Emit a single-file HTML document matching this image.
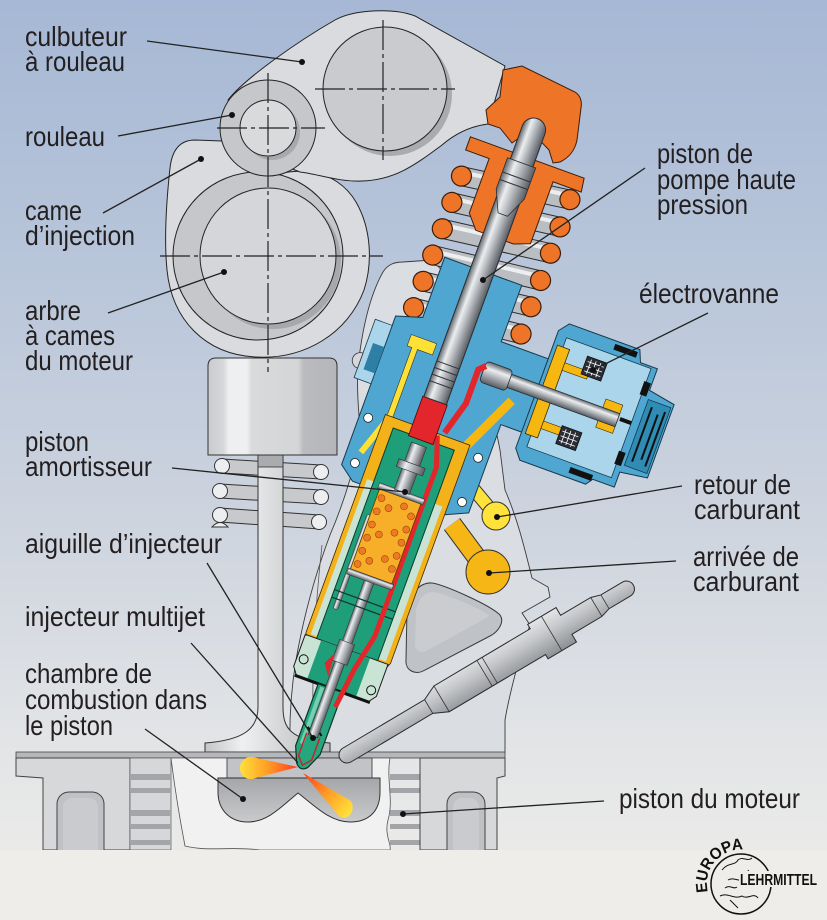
<!DOCTYPE html>
<html><head><meta charset="utf-8"><style>
html,body{margin:0;padding:0;background:#eeede9;}
svg{display:block}
.t{font-family:"Liberation Sans",Arial,sans-serif;font-size:28px;fill:#231f20}
.ln{stroke:#222;stroke-width:1.3;fill:none}
.ch{stroke:#222;stroke-width:1.2;stroke-dasharray:30 4 4 4;fill:none}
.o{stroke:#232323;stroke-width:1}
</style></head><body>
<svg width="827" height="920" viewBox="0 0 827 920" xmlns="http://www.w3.org/2000/svg">
<defs>
<linearGradient id="bg" x1="0" y1="0" x2="0" y2="1">
<stop offset="0" stop-color="#a6b8d5"/><stop offset="0.3" stop-color="#b9c6da"/>
<stop offset="0.55" stop-color="#ccd3de"/><stop offset="0.8" stop-color="#e2e4e6"/>
<stop offset="1" stop-color="#efeeea"/></linearGradient>
<linearGradient id="silH" x1="0" y1="0" x2="1" y2="0">
<stop offset="0" stop-color="#62676d"/><stop offset="0.3" stop-color="#eceef0"/>
<stop offset="0.6" stop-color="#adb1b6"/><stop offset="1" stop-color="#575c62"/></linearGradient>
<linearGradient id="silV" x1="0" y1="0" x2="0" y2="1">
<stop offset="0" stop-color="#62676d"/><stop offset="0.3" stop-color="#eceef0"/>
<stop offset="0.6" stop-color="#adb1b6"/><stop offset="1" stop-color="#575c62"/></linearGradient>
<linearGradient id="tap" x1="0" y1="0" x2="1" y2="0">
<stop offset="0" stop-color="#c9cbce"/><stop offset="0.12" stop-color="#d6d8da"/>
<stop offset="0.16" stop-color="#eeeff0"/><stop offset="0.3" stop-color="#eeeff0"/>
<stop offset="0.34" stop-color="#d8dadc"/><stop offset="0.7" stop-color="#d3d5d7"/>
<stop offset="0.74" stop-color="#b9bbbe"/><stop offset="1" stop-color="#b4b6b9"/></linearGradient>
<linearGradient id="stem" x1="0" y1="0" x2="1" y2="0">
<stop offset="0" stop-color="#c3c5c8"/><stop offset="0.3" stop-color="#eff0f1"/>
<stop offset="0.6" stop-color="#d5d7d9"/><stop offset="1" stop-color="#b4b6b9"/></linearGradient>
<linearGradient id="plug" x1="0" y1="0" x2="0" y2="1">
<stop offset="0" stop-color="#e3e5e7"/><stop offset="0.4" stop-color="#c6c8cb"/>
<stop offset="1" stop-color="#8c8f93"/></linearGradient>
<linearGradient id="bowl" x1="0" y1="0" x2="0" y2="1">
<stop offset="0" stop-color="#a4a6a9"/><stop offset="1" stop-color="#c8cacc"/></linearGradient>
<linearGradient id="sprL" gradientUnits="userSpaceOnUse" x1="240" y1="0" x2="298" y2="0">
<stop offset="0" stop-color="#ffe03a"/><stop offset="0.5" stop-color="#ff9a25"/>
<stop offset="1" stop-color="#ff3a1f"/></linearGradient>
<linearGradient id="sprR" gradientUnits="userSpaceOnUse" x1="350" y1="812" x2="304" y2="772">
<stop offset="0" stop-color="#ffe03a"/><stop offset="0.5" stop-color="#ff9a25"/>
<stop offset="1" stop-color="#ff3a1f"/></linearGradient>
</defs>

<rect x="0" y="0" width="827" height="920" fill="url(#bg)"/>

<!-- cylinder head region -->
<path d="M403,262 L432,260 L470,300 L500,450 L505,490 C518,520 525,550 532,578 L548,587 L550,597 L522,613 L530,625 L522,648 C518,665 510,690 505,720 L505,753 L290,753 C289,720 291,690 296,660 C303,620 315,575 330,535 C345,500 357,460 360,432 C360,420 356,395 358,367 C362,330 370,295 383,272 C388,264 395,262 403,262 Z" fill="#dadde2" stroke="#3a3a3a" stroke-width="0.9"/>
<path d="M322,545 C316,600 312,660 313,713" fill="none" stroke="#555" stroke-width="0.8"/>
<path d="M432,583 C445,585 490,605 500,615 C505,622 498,632 490,636 L425,670 C415,676 405,670 406,660 L407,610 C408,595 420,582 432,583 Z" fill="#bfc2c6" stroke="#3a3a3a" stroke-width="1"/>
<path d="M434,592 C445,594 480,608 490,616 L428,650 C420,655 415,650 415,644 L416,612 C417,600 425,591 434,592 Z" fill="#caccd0"/>

<!-- valve springs -->
<g stroke="#333" stroke-width="1">
<path d="M222,459 L321,465 L321,479 L222,473 Z" fill="#c7c9cc"/>
<path d="M220,484 L321,490 L321,504 L220,498 Z" fill="#c7c9cc"/>
<path d="M220,508 L319,515 L319,529 L220,522 Z" fill="#c7c9cc"/>
<circle cx="222" cy="466" r="7.5" fill="#eceef0"/><circle cx="321" cy="472" r="7.5" fill="#eceef0"/>
<circle cx="220" cy="491" r="7.5" fill="#eceef0"/><circle cx="321" cy="497" r="7.5" fill="#eceef0"/>
<circle cx="220" cy="515" r="7.5" fill="#eceef0"/><circle cx="319" cy="522" r="7.5" fill="#eceef0"/>
<path d="M212,527 Q220,518 228,527 Z" fill="#eceef0"/>
</g>

<!-- valve stem and head -->
<path d="M258,455 L283,455 L283,707 C283,728 290,740 330,743 L330,752 L205,752 L205,743 C245,740 258,728 258,707 Z" fill="url(#stem)" stroke="#333" stroke-width="1"/>
<rect x="258" y="455" width="25" height="12" fill="#a9abae" stroke="#333" stroke-width="0.8"/>
<!-- tappet -->
<path d="M208,366 Q208,358 216,358 L329,358 Q337,358 337,366 L337,455 L208,455 Z" fill="url(#tap)" stroke="#333" stroke-width="1"/>

<!-- cam -->
<path d="M195,140 C180,140 172,150 170,168 C166,205 164,240 167,270 C172,320 205,354 255,357 C305,360 348,333 364,290 C373,262 371,228 356,202 C346,185 330,175 312,172 C296,170 280,172 268,178 C255,160 240,146 222,141 Z" fill="#d9dbde" class="o"/>
<ellipse cx="258" cy="256" rx="85" ry="84" fill="#c5c7ca" class="o"/>
<circle cx="273" cy="261" r="68" fill="#a6a8ab"/>
<circle cx="268" cy="256" r="68" fill="#d4d6d9" class="o"/>

<!-- rocker -->
<path d="M228,100 C245,78 300,40 335,20 C355,9 395,8 415,16 L505,66 L488,124 C472,126 456,133 442,145 C415,165 395,180 362,181 C338,182 318,174 300,172 L270,160 Z" fill="#d9dbde" class="o"/>
<circle cx="390" cy="94" r="62" fill="#a9abae"/>
<circle cx="385" cy="89" r="62" fill="#c9cbce" class="o"/>
<circle cx="268" cy="128" r="48" fill="#c5c7ca" class="o"/>
<circle cx="272" cy="132" r="28" fill="#a7a9ac"/>
<circle cx="268" cy="128" r="28" fill="#d8dadc" class="o"/>
<!-- crosshairs -->
<line class="ch" x1="315" y1="89" x2="455" y2="89"/>
<line class="ch" x1="383" y1="20" x2="383" y2="160"/>
<line class="ch" x1="217" y1="128" x2="325" y2="128"/>
<line class="ch" x1="268" y1="73" x2="268" y2="372"/>
<line class="ch" x1="160" y1="256" x2="383" y2="256"/>

<!-- block bottom -->
<rect x="16" y="752" width="489" height="6" fill="#b5b7ba" stroke="#444" stroke-width="0.8"/>
<path d="M16,758 L130,758 L130,850 L43,850 L43,778 L16,776 Z" fill="#d6d8da" stroke="#444" stroke-width="1"/>
<rect x="57" y="792" width="47" height="70" rx="12" fill="#bfc1c4" stroke="#444" stroke-width="1"/>
<rect x="63" y="798" width="35" height="60" rx="9" fill="#c9cbce"/>
<rect x="130" y="758" width="41" height="92" fill="#d5d7d9" stroke="#555" stroke-width="0.7"/>
<g fill="#a3a5a8"><rect x="130" y="774" width="41" height="6"/><rect x="130" y="788" width="41" height="5"/><rect x="130" y="810" width="41" height="6"/><rect x="130" y="824" width="41" height="5"/><rect x="130" y="840" width="41" height="5"/>
<rect x="390" y="774" width="30" height="6"/><rect x="390" y="788" width="30" height="5"/><rect x="390" y="810" width="30" height="6"/><rect x="390" y="824" width="30" height="5"/><rect x="390" y="840" width="30" height="5"/></g>
<path d="M171,758 L390,758 C386,780 394,800 388,820 C384,835 392,845 390,850 L260,850 C230,846 210,852 185,846 C180,820 175,790 171,758 Z" fill="#f1f1f1" stroke="#555" stroke-width="0.8"/>
<path d="M420,758 L505,758 L505,776 L497,778 L497,850 L420,850 Z" fill="#d6d8da" stroke="#444" stroke-width="1"/>
<rect x="447" y="792" width="38" height="70" rx="12" fill="#bfc1c4" stroke="#444" stroke-width="1"/>
<rect x="453" y="798" width="26" height="60" rx="9" fill="#c9cbce"/>
<rect x="227" y="758" width="145" height="20" fill="#c1c3c6" stroke="#444" stroke-width="0.9"/>
<path d="M218,778 L380,778 L380,792 C380,812 368,822 350,822 C330,822 315,806 298,793 C282,806 268,822 248,822 C230,822 218,810 218,792 Z" fill="url(#bowl)" stroke="#333" stroke-width="1"/>
<rect x="0" y="850" width="827" height="70" fill="#eeede9"/>

<!-- glow plug -->
<g transform="translate(347,755) rotate(-30.7)">
<path d="M0,-8 L95,-8 L110,-15 L222,-15 L222,-20 L255,-20 L255,-11 L290,-11 L300,-8 L325,-8 A8,8 0 0 1 325,8 L300,8 L290,11 L255,11 L255,20 L222,20 L222,15 L110,15 L95,8 L0,8 A8,8 0 0 1 0,-8 Z" fill="url(#plug)" stroke="#2a2a2a" stroke-width="1"/>
<g stroke="#333" stroke-width="0.8"><line x1="95" y1="-8" x2="95" y2="8"/><line x1="110" y1="-15" x2="110" y2="15"/><line x1="238" y1="-20" x2="238" y2="20"/><line x1="290" y1="-11" x2="290" y2="11"/><line x1="300" y1="-8" x2="300" y2="8"/><line x1="160" y1="-15" x2="160" y2="15"/><line x1="166" y1="-15" x2="166" y2="15"/></g>
</g>

<!-- fuel return / supply -->
<line x1="466" y1="480" x2="496" y2="516" stroke="#333" stroke-width="14"/>
<line x1="466" y1="480" x2="496" y2="516" stroke="#ffe23a" stroke-width="12"/>
<circle cx="496" cy="516" r="14" fill="#ffe23a" stroke="#333" stroke-width="1"/>
<line x1="452" y1="524" x2="486" y2="570" stroke="#333" stroke-width="20"/>
<line x1="452" y1="524" x2="486" y2="570" stroke="#f6b616" stroke-width="18"/>
<circle cx="488" cy="572" r="22" fill="#f6b616" stroke="#333" stroke-width="1"/>

<!-- orange rocker pad -->
<path d="M503,70 L522,66 L575,92 C581,96 582,102 581,108 L577,140 C575,150 570,157 560,162 L553,163 L549,150 L530,130 L512,143 L500,128 L488,124 L486,110 L500,97 Z" fill="#ee7427" stroke="#3b1d0b" stroke-width="1"/>

<!-- injector unit -->
<g transform="translate(301,769) rotate(20)">
 <g stroke-linecap="round">
  <g stroke="#2e2e2e" stroke-width="20">
   <line x1="-52" y1="-612" x2="58" y2="-627"/><line x1="-52" y1="-584" x2="58" y2="-598"/><line x1="-52" y1="-556" x2="58" y2="-570"/><line x1="-52" y1="-528" x2="58" y2="-541"/><line x1="-52" y1="-500" x2="58" y2="-513"/><line x1="-52" y1="-472" x2="58" y2="-484"/>
  </g>
  <g stroke="#babdc1" stroke-width="18">
   <line x1="-52" y1="-612" x2="58" y2="-627"/><line x1="-52" y1="-584" x2="58" y2="-598"/><line x1="-52" y1="-556" x2="58" y2="-570"/><line x1="-52" y1="-528" x2="58" y2="-541"/><line x1="-52" y1="-500" x2="58" y2="-513"/><line x1="-52" y1="-472" x2="58" y2="-484"/>
  </g>
  <g stroke="#eceef0" stroke-width="4">
   <line x1="-52" y1="-616" x2="58" y2="-631"/><line x1="-52" y1="-588" x2="58" y2="-602"/><line x1="-52" y1="-560" x2="58" y2="-574"/><line x1="-52" y1="-532" x2="58" y2="-545"/><line x1="-52" y1="-504" x2="58" y2="-517"/><line x1="-52" y1="-476" x2="58" y2="-488"/>
  </g>
 </g>
 <g fill="#ee7427" stroke="#3b1d0b" stroke-width="1.2">
  <circle cx="-52" cy="-612" r="10"/><circle cx="-52" cy="-584" r="10"/><circle cx="-52" cy="-556" r="10"/><circle cx="-52" cy="-528" r="10"/><circle cx="-52" cy="-500" r="10"/><circle cx="-52" cy="-472" r="10"/>
  <circle cx="58" cy="-627" r="10"/><circle cx="58" cy="-598" r="10"/><circle cx="58" cy="-570" r="10"/><circle cx="58" cy="-541" r="10"/><circle cx="58" cy="-513" r="10"/><circle cx="58" cy="-484" r="10"/><circle cx="58" cy="-456" r="10"/>
 </g>
 <path d="M-40,-530 L42,-530 L42,-470 L96,-470 L96,-392 L70,-392 L70,-298 L48,-288 L-50,-288 L-66,-300 L-66,-458 L-40,-466 Z" fill="#4fa6d0" stroke="#163a4e" stroke-width="1"/>
 <rect x="-84" y="-448" width="18" height="62" fill="#abd5ea" stroke="#163a4e" stroke-width="0.8"/>
 <rect x="-78" y="-425" width="12" height="28" fill="#2d7fa5"/>
 <path d="M-84,-412 A8,8 0 0 0 -84,-396 Z" fill="#d5d7da" stroke="#333" stroke-width="0.8"/>
 <path d="M92,-500 L100,-510 L175,-510 L180,-498 L198,-498 L198,-475 L226,-470 L226,-392 L198,-388 L198,-372 L175,-372 L170,-365 L100,-365 L92,-375 Z" fill="#4fa6d0" stroke="#163a4e" stroke-width="1"/>
 <rect x="102" y="-496" width="90" height="116" fill="#abd5ea" stroke="#163a4e" stroke-width="0.8"/>
 <rect x="200" y="-466" width="24" height="70" fill="#2f8db5" stroke="#163a4e" stroke-width="0.8"/>
 <g stroke="#111" stroke-width="2"><line x1="206" y1="-460" x2="206" y2="-402"/><line x1="214" y1="-455" x2="214" y2="-407"/><line x1="220" y1="-460" x2="220" y2="-402"/></g>
 <g fill="#111"><rect x="150" y="-507" width="24" height="6"/><rect x="150" y="-376" width="24" height="6"/><rect x="190" y="-482" width="7" height="14"/><rect x="190" y="-408" width="7" height="14"/><rect x="180" y="-440" width="12" height="4"/></g>
 <rect x="96" y="-486" width="13" height="94" fill="#f6b810" stroke="#3a2a00" stroke-width="0.8"/>
 <rect x="109" y="-472" width="26" height="8" fill="#f6b810" stroke="#3a2a00" stroke-width="0.6"/>
 <rect x="109" y="-410" width="26" height="8" fill="#f6b810" stroke="#3a2a00" stroke-width="0.6"/>
 <rect x="160" y="-452" width="18" height="30" fill="#f6b810" stroke="#3a2a00" stroke-width="0.6"/>
 <g stroke="#fff" stroke-width="0.8">
  <rect x="128" y="-486" width="21" height="19" fill="#2a2d33" stroke="#111"/>
  <line x1="133" y1="-484" x2="133" y2="-469"/><line x1="138" y1="-484" x2="138" y2="-469"/><line x1="143" y1="-484" x2="143" y2="-469"/><line x1="130" y1="-481" x2="147" y2="-481"/><line x1="130" y1="-476" x2="147" y2="-476"/><line x1="130" y1="-471" x2="147" y2="-471"/>
  <rect x="128" y="-412" width="21" height="19" fill="#2a2d33" stroke="#111"/>
  <line x1="133" y1="-410" x2="133" y2="-395"/><line x1="138" y1="-410" x2="138" y2="-395"/><line x1="143" y1="-410" x2="143" y2="-395"/><line x1="130" y1="-407" x2="147" y2="-407"/><line x1="130" y1="-402" x2="147" y2="-402"/><line x1="130" y1="-397" x2="147" y2="-397"/>
 </g>
 <rect x="35" y="-443" width="143" height="14" fill="url(#silV)" stroke="#2a2d31" stroke-width="0.8"/>
 <rect x="35" y="-447" width="28" height="22" rx="4" fill="url(#silV)" stroke="#2a2d31" stroke-width="0.8"/>
 <path d="M-45,-446 L-18,-446 L-18,-434 L-34,-434 L-34,-362 L-40,-362 L-40,-434 L-45,-434 Z" fill="#ffe135" stroke="#333" stroke-width="0.6"/>
 <line x1="-37" y1="-362" x2="-52" y2="-318" stroke="#ffe135" stroke-width="6"/>
 <line x1="72" y1="-418" x2="40" y2="-350" stroke="#f6b810" stroke-width="9"/>
 <path d="M-42,-362 L48,-362 L48,-130 L44,-120 L-38,-120 L-42,-130 Z" fill="#f3b21a" stroke="#3a2800" stroke-width="0.8"/>
 <rect x="-37" y="-295" width="8" height="165" fill="#c9e4d5"/>
 <rect x="35" y="-295" width="8" height="165" fill="#c9e4d5"/>
 <rect x="-30" y="-352" width="65" height="234" fill="#1f9f79" stroke="#0c3a2b" stroke-width="1"/>
 <path d="M-42,-128 L46,-128 L46,-94 L40,-86 L-36,-86 L-42,-94 Z" fill="#c9e4d5" stroke="#1a1a1a" stroke-width="1"/>
 <rect x="-25" y="-128" width="52" height="42" fill="#1f9f79"/>
 <line x1="-38" y1="-86" x2="42" y2="-86" stroke="#111" stroke-width="3"/>
 <circle cx="-35" cy="-104" r="4.5" fill="#c9e4d5" stroke="#111" stroke-width="1"/>
 <circle cx="39" cy="-98" r="4.5" fill="#c9e4d5" stroke="#111" stroke-width="1"/>
 <path d="M-13,-86 L13,-86 L13,-20 L6,-4 Q0,3 -6,-4 L-13,-20 Z" fill="#25a67e" stroke="#0d3327" stroke-width="1.2"/>
 <rect x="-10" y="-84" width="4" height="60" fill="#74d0b0"/>
 <path d="M-8,-42 L-3,-38 L3,-42 L8,-38" fill="none" stroke="#111" stroke-width="2"/>
 <path d="M-7,-36 L-7,-12 L0,-4 L7,-12 L7,-36" fill="none" stroke="#c4262b" stroke-width="1.5"/>
 <rect x="-5" y="-205" width="10" height="170" fill="url(#silH)" stroke="#333" stroke-width="0.6"/>
 <rect x="-8" y="-135" width="16" height="22" fill="url(#silH)" stroke="#333" stroke-width="0.6"/>
 <rect x="-25" y="-262" width="5" height="100" rx="2" fill="url(#silH)" stroke="#333" stroke-width="0.5"/>
 <line x1="-30" y1="-180" x2="35" y2="-180" stroke="#0c3a2b" stroke-width="1.2"/>
 <line x1="-30" y1="-172" x2="35" y2="-172" stroke="#0c3a2b" stroke-width="1.2"/>
 <path d="M14,-360 L24,-330 L24,-150 L16,-112 L11,-70" fill="none" stroke="#e2262b" stroke-width="5"/>
 <path d="M20,-365 L30,-400 L30,-436 L36,-442" fill="none" stroke="#e2262b" stroke-width="6"/>
 <path d="M-8,-120 L-14,-108 L-6,-96" fill="#e2262b"/>
 <rect x="-22" y="-290" width="44" height="85" fill="#f7ae28" stroke="#5a3a00" stroke-width="0.8"/>
 <g fill="#ef7a24" stroke="#8a3d00" stroke-width="0.5">
  <circle cx="-17" cy="-282" r="3.5"/><circle cx="-17" cy="-268" r="3.5"/><circle cx="-17" cy="-254" r="3.5"/><circle cx="-17" cy="-240" r="3.5"/><circle cx="-17" cy="-226" r="3.5"/><circle cx="-17" cy="-212" r="3.5"/>
  <circle cx="17" cy="-275" r="3.5"/><circle cx="17" cy="-261" r="3.5"/><circle cx="17" cy="-247" r="3.5"/><circle cx="17" cy="-233" r="3.5"/><circle cx="17" cy="-219" r="3.5"/>
  <circle cx="-7" cy="-275" r="3.5"/><circle cx="-7" cy="-247" r="3.5"/><circle cx="-7" cy="-219" r="3.5"/>
  <circle cx="7" cy="-282" r="3.5"/><circle cx="7" cy="-254" r="3.5"/><circle cx="7" cy="-226" r="3.5"/>
 </g>
 <rect x="-24" y="-296" width="48" height="6" fill="url(#silV)" stroke="#333" stroke-width="0.5"/>
 <rect x="-24" y="-205" width="48" height="6" fill="url(#silV)" stroke="#333" stroke-width="0.5"/>
 <rect x="-8" y="-345" width="16" height="50" fill="url(#silH)" stroke="#333" stroke-width="0.6"/>
 <rect x="-14" y="-325" width="28" height="8" fill="url(#silH)" stroke="#333" stroke-width="0.6"/>
 <rect x="-13" y="-392" width="26" height="42" fill="#e3262b" stroke="#5a0000" stroke-width="0.8"/>
 <path d="M-57,-652 L64,-652 L66,-638 L36,-638 L36,-572 L20,-566 L-20,-566 L-32,-580 L-32,-638 L-57,-638 Z" fill="#ee7427" stroke="#3b1d0b" stroke-width="1"/>
 <path d="M-12,-680 A12,12 0 0 1 12,-680 L12,-392 L-12,-392 Z" fill="url(#silH)" stroke="#2a2d31" stroke-width="1"/>
 <path d="M-15,-645 L15,-645 L15,-612 L5,-590 L-5,-590 L-15,-612 Z" fill="url(#silH)" stroke="#2a2d31" stroke-width="0.8"/>
 <g stroke="#333" stroke-width="1"><line x1="-12" y1="-430" x2="12" y2="-430"/><line x1="-12" y1="-423" x2="12" y2="-423"/><line x1="-12" y1="-416" x2="12" y2="-416"/><line x1="-12" y1="-409" x2="12" y2="-409"/><line x1="-15" y1="-630" x2="15" y2="-630"/><line x1="-15" y1="-622" x2="15" y2="-622"/></g>
 <g fill="#fff" stroke="#222" stroke-width="0.8"><circle cx="-57" cy="-353" r="4.5"/><circle cx="-54" cy="-306" r="4.5"/><circle cx="60" cy="-353" r="4.5"/><circle cx="60" cy="-306" r="4.5"/></g>
</g>

<!-- spray -->
<path d="M298,767 L252,757 C236,756 236,780 252,779 Z" fill="url(#sprL)"/>
<path d="M303,773 L338,815 C346,823 357,812 351,801 Z" fill="url(#sprR)"/>

<!-- leader lines -->
<g class="ln">
<line x1="147" y1="41" x2="302" y2="62"/>
<line x1="118" y1="136" x2="232" y2="115"/>
<line x1="103" y1="213" x2="201" y2="159"/>
<line x1="108" y1="313" x2="224" y2="272"/>
<line x1="172" y1="468" x2="405" y2="492"/>
<line x1="207" y1="563" x2="313" y2="738"/>
<line x1="191" y1="643" x2="298" y2="763"/>
<line x1="145" y1="729" x2="243" y2="799"/>
<line x1="604" y1="801" x2="403" y2="814"/>
<line x1="645" y1="168" x2="483" y2="280"/>
<line x1="708" y1="313" x2="593" y2="370"/>
<line x1="682" y1="486" x2="497" y2="517"/>
<line x1="676" y1="561" x2="489" y2="573"/>
</g>
<g fill="#111">
<circle cx="302" cy="62" r="3"/><circle cx="232" cy="115" r="3"/><circle cx="201" cy="159" r="3"/><circle cx="224" cy="272" r="3"/>
<circle cx="405" cy="492" r="3"/><circle cx="313" cy="738" r="3"/><circle cx="243" cy="799" r="3"/><circle cx="403" cy="814" r="3"/>
<circle cx="483" cy="280" r="3"/><circle cx="593" cy="370" r="3"/><circle cx="497" cy="517" r="3"/><circle cx="489" cy="573" r="3"/>
</g>

<!-- labels -->
<g class="t" fill="#231f20">
<text x="25" y="46" textLength="102" lengthAdjust="spacingAndGlyphs">culbuteur</text>
<text x="25" y="71" textLength="100" lengthAdjust="spacingAndGlyphs">à rouleau</text>
<text x="25" y="146" textLength="80" lengthAdjust="spacingAndGlyphs">rouleau</text>
<text x="25" y="220" textLength="57" lengthAdjust="spacingAndGlyphs">came</text>
<text x="25" y="245" textLength="110" lengthAdjust="spacingAndGlyphs">d’injection</text>
<text x="25" y="320" textLength="56" lengthAdjust="spacingAndGlyphs">arbre</text>
<text x="25" y="345" textLength="90" lengthAdjust="spacingAndGlyphs">à cames</text>
<text x="25" y="370" textLength="108" lengthAdjust="spacingAndGlyphs">du moteur</text>
<text x="25" y="451" textLength="64" lengthAdjust="spacingAndGlyphs">piston</text>
<text x="25" y="476" textLength="127" lengthAdjust="spacingAndGlyphs">amortisseur</text>
<text x="25" y="553" textLength="197" lengthAdjust="spacingAndGlyphs">aiguille d’injecteur</text>
<text x="25" y="626" textLength="180" lengthAdjust="spacingAndGlyphs">injecteur multijet</text>
<text x="25" y="683" textLength="127" lengthAdjust="spacingAndGlyphs">chambre de</text>
<text x="25" y="709" textLength="182" lengthAdjust="spacingAndGlyphs">combustion dans</text>
<text x="25" y="735" textLength="88" lengthAdjust="spacingAndGlyphs">le piston</text>
<text x="657" y="163" textLength="96" lengthAdjust="spacingAndGlyphs">piston de</text>
<text x="657" y="189" textLength="139" lengthAdjust="spacingAndGlyphs">pompe haute</text>
<text x="657" y="214" textLength="91" lengthAdjust="spacingAndGlyphs">pression</text>
<text x="639" y="303" textLength="140" lengthAdjust="spacingAndGlyphs">électrovanne</text>
<text x="694" y="494" textLength="97" lengthAdjust="spacingAndGlyphs">retour de</text>
<text x="694" y="519" textLength="106" lengthAdjust="spacingAndGlyphs">carburant</text>
<text x="693" y="566" textLength="106" lengthAdjust="spacingAndGlyphs">arrivée de</text>
<text x="693" y="591" textLength="106" lengthAdjust="spacingAndGlyphs">carburant</text>
<text x="619" y="808" textLength="181" lengthAdjust="spacingAndGlyphs">piston du moteur</text>
</g>

<!-- logo -->
<g>
<circle cx="741" cy="884" r="30" fill="none" stroke="#111" stroke-width="1.5"/>
<path d="M722,870 C728,862 735,866 738,860 C742,856 748,862 752,858 M728,880 C735,876 740,884 746,878 M720,896 C728,892 734,900 742,896 C748,900 754,892 758,898 M748,870 L752,878 M730,900 L738,908 M725,888 C730,884 733,890 737,887" fill="none" stroke="#111" stroke-width="1"/>
<path id="arc" d="M708,892 A34,34 0 0 1 746,850" fill="none"/>
<text font-family="Liberation Sans, Arial, sans-serif" font-size="16" font-weight="bold" fill="#111"><textPath href="#arc" textLength="64" lengthAdjust="spacingAndGlyphs">EUROPA</textPath></text>
<rect x="739" y="871" width="78" height="16" fill="#eeede9"/>
<text x="740" y="885" font-family="Liberation Sans, Arial, sans-serif" font-size="16" font-weight="bold" fill="#111" textLength="77" lengthAdjust="spacingAndGlyphs">LEHRMITTEL</text>
</g>
</svg>
</body></html>
